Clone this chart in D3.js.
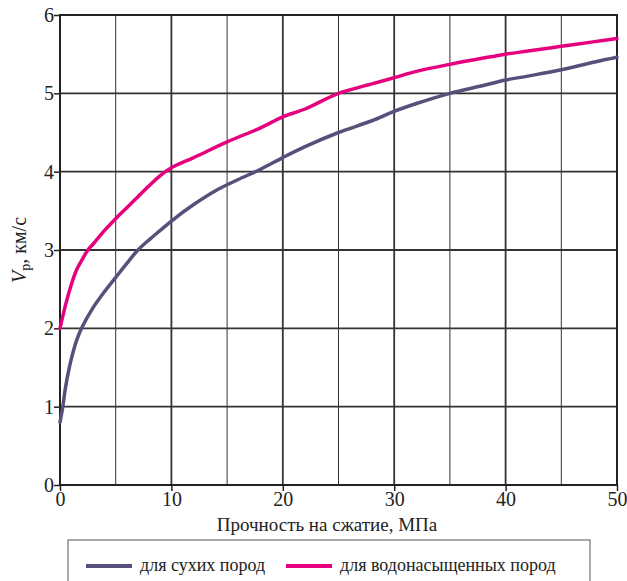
<!DOCTYPE html>
<html>
<head>
<meta charset="utf-8">
<script src="https://cdn.jsdelivr.net/npm/d3@7"></script>
</head>
<body style="margin:0;background:#fff">
<div id="chart"></div>
<script>
// данные
const dryX = [0, 0.25, 0.5, 1, 1.5, 2, 3, 4, 5, 6, 7, 8, 9, 10, 12, 14, 16, 18, 20, 22, 25, 28, 30, 32, 35, 38, 40, 42, 45, 48, 50];
const dryY = [0.8, 1.0, 1.25, 1.6, 1.85, 2.02, 2.27, 2.47, 2.65, 2.83, 3.0, 3.13, 3.25, 3.37, 3.58, 3.76, 3.9, 4.03, 4.18, 4.32, 4.5, 4.65, 4.77, 4.87, 5.0, 5.1, 5.17, 5.22, 5.3, 5.4, 5.46];
const wetX = [0, 0.5, 1, 1.5, 2, 2.5, 3, 4, 5, 6, 7, 8, 9, 10, 12, 15, 18, 20, 22, 25, 28, 30, 32, 35, 38, 40, 42, 45, 48, 50];
const wetY = [2.0, 2.3, 2.55, 2.75, 2.88, 3.0, 3.08, 3.25, 3.4, 3.54, 3.68, 3.82, 3.95, 4.05, 4.18, 4.38, 4.56, 4.7, 4.8, 5.0, 5.12, 5.2, 5.28, 5.37, 5.45, 5.5, 5.54, 5.6, 5.66, 5.7];
const xTicks = [0, 10, 20, 30, 40, 50];
const yTicks = [0, 1, 2, 3, 4, 5, 6];
const seriesNames = ["для сухих пород", "для водонасыщенных пород"];
const seriesColors = ["#58507a", "#e6007e"];

const width = 627;
const height = 581;
const margin = { top: 15, right: 10, bottom: 96, left: 60 };
const serif = '"Liberation Serif", serif';

const svg = d3.select("#chart")
  .append("svg")
  .attr("width", width)
  .attr("height", height);

const x = d3.scaleLinear()
  .domain([0, 50])
  .range([margin.left, width - margin.right]);

const y = d3.scaleLinear()
  .domain([0, 6])
  .range([height - margin.bottom, margin.top]);

// сетка
const xGrid = d3.range(5, 50, 5);
svg.append("g")
  .selectAll("line")
  .data(xGrid)
  .join("line")
  .attr("x1", d => x(d)).attr("x2", d => x(d))
  .attr("y1", y(0)).attr("y2", y(6))
  .attr("stroke", "#333")
  .attr("stroke-width", d => d % 10 === 0 ? 1.8 : 1);

svg.append("g")
  .selectAll("line")
  .data(yTicks.slice(1, -1))
  .join("line")
  .attr("x1", x(0)).attr("x2", x(50))
  .attr("y1", d => y(d)).attr("y2", d => y(d))
  .attr("stroke", "#333")
  .attr("stroke-width", 1.8);

svg.append("rect")
  .attr("x", x(0)).attr("y", y(6))
  .attr("width", x(50) - x(0)).attr("height", y(0) - y(6))
  .attr("fill", "none")
  .attr("stroke", "#222")
  .attr("stroke-width", 2);

// оси
const xAxis = svg.append("g")
  .attr("transform", `translate(0, ${y(0)})`)
  .call(d3.axisBottom(x).tickValues(xTicks).tickSize(6).tickFormat(d3.format("d")));
xAxis.select(".domain").remove();
xAxis.selectAll("line").attr("stroke", "#222").attr("stroke-width", 1.5);
xAxis.selectAll("text")
  .style("font-family", serif)
  .style("font-size", "20px")
  .attr("dy", "0.6em")
  .attr("fill", "#222");

const yAxis = svg.append("g")
  .attr("transform", `translate(${x(0)}, 0)`)
  .call(d3.axisLeft(y).tickValues(yTicks).tickSize(6).tickFormat(d3.format("d")));
yAxis.select(".domain").remove();
yAxis.selectAll("line").attr("stroke", "#222").attr("stroke-width", 1.5);
yAxis.selectAll("text")
  .style("font-family", serif)
  .style("font-size", "20px")
  .attr("x", -6)
  .attr("fill", "#222");

svg.append("text")
  .attr("x", 327)
  .attr("y", y(0) + 46)
  .attr("text-anchor", "middle")
  .attr("fill", "#222")
  .style("font-family", serif)
  .style("font-size", "19px")
  .text("Прочность на сжатие, МПа");

const yl = svg.append("text")
  .attr("transform", `translate(26, ${(y(0) + y(6)) / 2}) rotate(-90)`)
  .attr("text-anchor", "middle")
  .attr("fill", "#222")
  .style("font-family", serif)
  .style("font-size", "20px");
yl.append("tspan").style("font-style", "italic").text("V");
yl.append("tspan").style("font-size", "14px").attr("dy", 4).text("p");
yl.append("tspan").attr("dy", -4).text(", км/с");

// линии
const line = d3.line()
  .x(d => x(d[0]))
  .y(d => y(d[1]))
  .curve(d3.curveCatmullRom);

[[dryX, dryY], [wetX, wetY]].forEach((s, i) => {
  svg.append("path")
    .datum(d3.zip(s[0], s[1]))
    .attr("fill", "none")
    .attr("stroke", seriesColors[i])
    .attr("stroke-width", 3.5)
    .attr("stroke-linecap", "round")
    .attr("d", line);
});

// легенда
const legend = svg.append("g");
legend.append("rect")
  .attr("x", 68).attr("y", 540)
  .attr("width", 522).attr("height", 60)
  .attr("fill", "none")
  .attr("stroke", "#555")
  .attr("stroke-width", 1);

const legendX = [86, 286];
seriesNames.forEach((name, i) => {
  legend.append("line")
    .attr("x1", legendX[i]).attr("x2", legendX[i] + 46)
    .attr("y1", 566).attr("y2", 566)
    .attr("stroke", seriesColors[i])
    .attr("stroke-width", 4);
  legend.append("text")
    .attr("x", legendX[i] + 54)
    .attr("y", 571)
    .attr("fill", "#222")
    .style("font-family", serif)
    .style("font-size", "18px")
    .text(name);
});
</script>
</body>
</html>
